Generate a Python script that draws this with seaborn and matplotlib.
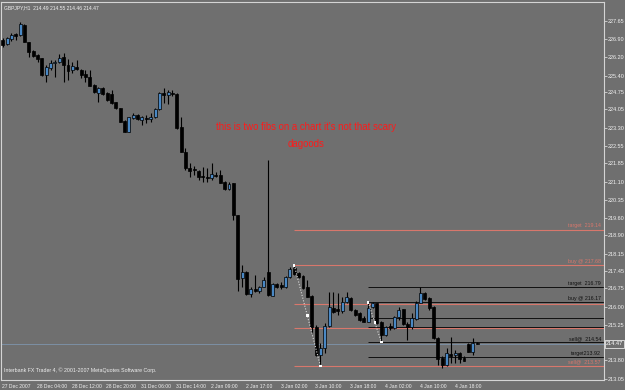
import numpy as np
import pandas as pd
import matplotlib
matplotlib.use("Agg")
import matplotlib.pyplot as plt
import matplotlib.transforms as mtransforms
import seaborn as sns

# ---------------- data (GBPJPY H1) ----------------
opens = [226.88, 226.70, 226.91, 227.12, 227.08, 227.49, 226.78, 226.43, 226.27, 226.13,
         225.45, 225.72, 225.93, 225.97, 226.17, 225.86, 225.65, 225.79, 225.65, 225.49,
         225.38, 225.04, 224.70, 224.93, 224.70, 224.67, 224.33, 224.09, 223.57, 223.13,
         223.68, 223.82, 223.61, 223.68, 223.64, 223.72, 224.05, 224.73, 224.62, 224.73,
         224.67, 223.34, 222.32, 221.64, 221.61, 221.54, 221.34, 221.30, 221.23, 221.37,
         221.37, 221.09, 220.78, 221.03, 219.73, 217.15, 217.42, 216.51, 216.70, 216.64,
         216.81, 217.42, 216.44, 216.92, 216.88, 216.78, 217.19, 217.56, 217.35, 217.24,
         216.78, 216.44, 215.17, 214.02, 214.29, 215.20, 215.93, 215.89, 215.83, 216.20,
         216.33, 215.86, 215.75, 215.52, 215.38, 215.97, 216.13, 215.38, 214.84, 215.20,
         215.11, 215.56, 215.89, 215.29, 215.15, 215.48, 216.16, 216.54, 216.33, 215.97,
         214.70, 213.89, 213.61, 214.06, 214.02, 214.09, 213.89, 214.46, 214.14, 214.49]
highs = [226.96, 227.00, 227.15, 227.15, 227.62, 227.53, 226.81, 226.47, 226.31, 226.14,
         225.86, 226.06, 226.06, 226.29, 226.33, 226.09, 225.99, 226.06, 225.69, 225.65,
         225.65, 225.08, 224.96, 224.96, 224.75, 224.84, 224.35, 224.10, 223.61, 223.73,
         223.89, 223.86, 223.78, 223.82, 223.89, 224.10, 224.77, 224.91, 224.84, 224.84,
         224.71, 223.75, 222.46, 221.85, 221.73, 221.57, 221.71, 221.64, 221.85, 221.50,
         221.57, 221.12, 221.09, 221.04, 219.75, 217.69, 217.45, 216.81, 217.29, 216.84,
         217.22, 221.98, 216.96, 216.96, 217.01, 217.24, 217.60, 217.68, 217.41, 217.29,
         217.08, 216.47, 215.24, 214.50, 215.34, 216.60, 216.60, 216.56, 216.40, 216.60,
         216.39, 215.90, 215.78, 215.61, 216.17, 216.18, 216.14, 215.41, 215.20, 215.31,
         215.61, 215.99, 215.90, 215.38, 215.75, 216.22, 216.79, 216.59, 216.39, 216.02,
         214.76, 213.98, 214.29, 214.77, 214.22, 214.14, 213.98, 214.51, 214.70, 214.55]
lows = [226.59, 226.67, 226.84, 226.88, 227.04, 226.80, 226.20, 226.18, 225.99, 225.41,
        225.18, 225.65, 225.38, 225.94, 225.18, 225.25, 225.52, 225.65, 225.31, 225.18,
        225.00, 224.71, 224.35, 224.63, 224.39, 224.27, 224.06, 223.53, 223.12, 223.12,
        223.65, 223.61, 223.41, 223.50, 223.54, 223.69, 224.02, 224.29, 224.27, 224.59,
        223.25, 222.31, 221.57, 221.30, 221.37, 221.16, 221.09, 221.09, 221.16, 221.30,
        221.04, 220.76, 220.76, 219.53, 216.64, 216.81, 216.47, 216.40, 216.60, 216.54,
        216.80, 216.43, 216.43, 216.75, 216.70, 216.75, 217.16, 217.29, 217.16, 216.71,
        216.39, 214.91, 213.98, 213.57, 214.09, 215.16, 215.72, 215.65, 215.72, 216.13,
        215.82, 215.61, 215.41, 215.37, 215.37, 215.94, 215.29, 214.54, 214.80, 215.04,
        215.08, 215.45, 215.24, 214.63, 215.07, 215.45, 216.14, 216.27, 215.86, 214.67,
        213.61, 213.48, 213.57, 213.68, 213.68, 213.68, 213.78, 214.14, 214.02, 214.46]
closes = [226.67, 226.95, 227.08, 227.05, 227.52, 226.81, 226.40, 226.22, 226.10, 225.45,
          225.79, 225.93, 225.99, 226.15, 225.86, 225.61, 225.82, 225.69, 225.45, 225.38,
          225.01, 224.74, 224.91, 224.66, 224.43, 224.29, 224.09, 223.54, 223.13, 223.72,
          223.82, 223.64, 223.72, 223.64, 223.75, 224.05, 224.73, 224.62, 224.75, 224.67,
          223.27, 222.32, 221.64, 221.54, 221.57, 221.30, 221.27, 221.23, 221.40, 221.33,
          221.05, 220.80, 221.00, 219.73, 217.11, 217.42, 216.51, 216.70, 216.64, 216.81,
          217.08, 216.47, 216.92, 216.78, 216.81, 217.19, 217.52, 217.33, 217.19, 216.74,
          216.40, 215.17, 214.02, 214.29, 215.20, 215.97, 215.79, 215.80, 216.20, 216.38,
          215.86, 215.65, 215.45, 215.38, 215.93, 216.13, 215.31, 214.84, 215.15, 215.11,
          215.56, 215.86, 215.29, 215.15, 215.52, 216.16, 216.54, 216.29, 215.93, 214.70,
          213.85, 213.61, 214.09, 213.98, 214.11, 213.85, 213.79, 214.15, 214.50, 214.47]

time_labels = ["27 Dec 2007", "28 Dec 04:00", "28 Dec 12:00", "28 Dec 20:00", "31 Dec 06:00",
               "31 Dec 14:00", "2 Jan 09:00", "2 Jan 17:00", "3 Jan 02:00", "3 Jan 10:00",
               "3 Jan 18:00", "4 Jan 02:00", "4 Jan 10:00", "4 Jan 18:00"]
time_label_bars = [0, 8, 16, 24, 32, 40, 48, 56, 64, 72, 80, 88, 96, 104]

price_ticks = [227.65, 226.90, 226.20, 225.40, 224.75, 224.05, 223.30, 222.55, 221.85,
               221.10, 220.35, 219.60, 218.90, 218.15, 217.45, 216.75, 216.00, 215.25,
               213.80, 213.05]
current_price = 214.47

# fib 1 (red): anchored bar 67 high -> bar 73 low
red_fib_levels = [219.14, 217.68, 216.11, 215.14, 213.57]
red_fib_labels = ["target  219.14", "buy @ 217.68", "", "", "sell@  213.57"]
red_fib_start = 67
red_fib_end = 73
# fib 2 (black): anchored bar 84 high -> bar 87 low
blk_fib_levels = [216.79, 216.17, 215.55, 215.16, 214.54, 213.92]
blk_fib_labels = ["target  216.79", "buy @ 216.17", "", "", "sell@  214.54", "target213.92"]
blk_fib_start = 84
blk_fib_end = 87

title_text = "GBPJPY,H1  214.49 214.55 214.46 214.47"
note_text = "this is two fibs on a chart it's not that scary"
author_text = "dagoods"
copyright_text = "Interbank FX Trader 4, \u00a9 2001-2007 MetaQuotes Software Corp."

# ---------------- style ----------------
BG = "#6f6f6f"
BULL = "#4a88c4"
RED = "#d8776c"
FRAME = "#d4d4d4"

sns.set_theme(style="dark", rc={"axes.facecolor": BG, "figure.facecolor": BG})
plt.rcParams["font.family"] = ["Liberation Sans", "DejaVu Sans"]

W, H = 625, 390
fig = plt.figure(figsize=(W / 100, H / 100), dpi=100)
ax_l, ax_r, ax_t, ax_b = 1.5, 604, 2, 380
ax = fig.add_axes([ax_l / W, 1 - ax_b / H, (ax_r - ax_l) / W, (ax_b - ax_t) / H])
ax.set_facecolor(BG)

df = pd.DataFrame({"open": opens, "high": highs, "low": lows, "close": closes})
df["bar"] = np.arange(len(df))
up = df["close"] >= df["open"]

# wicks
ax.vlines(df["bar"], df["low"], df["high"], color="black", lw=0.8, zorder=2)
# bodies
bw = 0.68
ax.bar(df.loc[up, "bar"], (df["close"] - df["open"])[up], bottom=df.loc[up, "open"],
       width=bw, color=BULL, edgecolor="black", lw=0.5, zorder=3)
ax.bar(df.loc[~up, "bar"], (df["open"] - df["close"])[~up], bottom=df.loc[~up, "close"],
       width=bw, color="black", edgecolor="black", lw=0.5, zorder=3)

xmax = 138.17
ax.set_xlim(-0.28, xmax)
ax.set_ylim(213.0, 228.43)

# current price line
ax.axhline(current_price, color="#7c8fa4", lw=0.7, zorder=1)

# fib levels
trans_lbl = mtransforms.blended_transform_factory(ax.transAxes, ax.transData)
for lv, lb in zip(red_fib_levels, red_fib_labels):
    ax.hlines(lv, red_fib_start, xmax, color=RED, lw=0.8, zorder=1)
    if lb:
        ax.text(0.995, lv + 0.05, lb, transform=trans_lbl, ha="right", va="bottom",
                fontsize=3.8, color=RED)
for lv, lb in zip(blk_fib_levels, blk_fib_labels):
    ax.hlines(lv, blk_fib_start, xmax, color="#111111", lw=0.7, zorder=1)
    if lb:
        ax.text(0.995, lv + 0.05, lb, transform=trans_lbl, ha="right", va="bottom",
                fontsize=3.8, color="#111111")

# fib trend lines (dotted)
for s, e, hi_v, lo_v in [(red_fib_start, red_fib_end, red_fib_levels[1], red_fib_levels[-1]),
                         (blk_fib_start, blk_fib_end, blk_fib_levels[1], blk_fib_levels[-2])]:
    tl = pd.DataFrame({"x": [s, e], "y": [hi_v, lo_v]})
    sns.lineplot(data=tl, x="x", y="y", ax=ax, color="#d8d8d8", lw=0.8,
                 linestyle=(0, (1, 1.5)), zorder=4)
    pts = pd.DataFrame({"x": [s, (s + e) / 2, e], "y": [hi_v, (hi_v + lo_v) / 2, lo_v]})
    sns.scatterplot(data=pts, x="x", y="y", ax=ax, marker="s", s=3, color="white",
                    edgecolor="none", zorder=5)
ax.set_xlabel("")
ax.set_ylabel("")

# axes / ticks
ax.yaxis.tick_right()
ax.set_yticks(price_ticks)
ax.set_yticklabels([f"{v:.2f}" for v in price_ticks])
ax.set_xticks(time_label_bars)
ax.set_xticklabels(time_labels, ha="left")
ax.tick_params(axis="y", direction="out", length=2, width=0.6, color=FRAME,
               labelsize=4.0, labelcolor="#f0f0f0", pad=1)
ax.tick_params(axis="x", direction="out", length=2, width=0.6, color=FRAME,
               labelsize=3.6, labelcolor="#f0f0f0", pad=1)
for lbl in ax.get_xticklabels():
    lbl.set_transform(lbl.get_transform() + mtransforms.ScaledTranslation(-0.5 / 72, 0, fig.dpi_scale_trans))
for sp in ax.spines.values():
    sp.set_visible(True)
    sp.set_color(FRAME)
    sp.set_linewidth(0.8)
ax.grid(False)

# current price box
ax.text(1.003, current_price, f"{current_price:.2f}", transform=trans_lbl, ha="left",
        va="center", fontsize=4.0, color="white",
        bbox=dict(boxstyle="square,pad=0.2", fc=BG, ec="white", lw=0.5))

# texts
ax.text(0.004, 0.99, title_text, transform=ax.transAxes, ha="left", va="top",
        fontsize=3.6, color="#f0f0f0")
ax.text(0.004, 0.018, copyright_text, transform=ax.transAxes, ha="left", va="bottom",
        fontsize=3.8, color="#f0f0f0")
ax.text(0.505, 0.669, note_text, transform=ax.transAxes, ha="center", va="center",
        fontsize=6.9, color="#ff1a1a")
ax.text(0.505, 0.624, author_text, transform=ax.transAxes, ha="center", va="center",
        fontsize=6.9, color="#ff1a1a")

fig.savefig("out.png", dpi=100, facecolor=BG)
